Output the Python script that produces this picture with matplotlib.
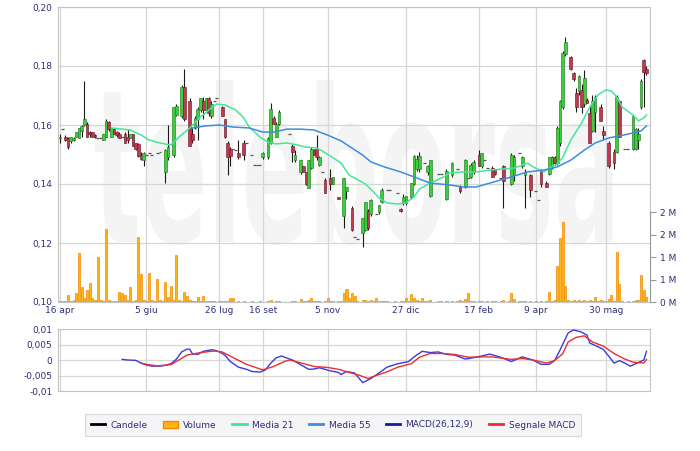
import numpy as np
import matplotlib
matplotlib.use("Agg")
import matplotlib.pyplot as plt
from matplotlib.lines import Line2D
from matplotlib.patches import Patch, PathPatch
from matplotlib.textpath import TextPath
from matplotlib.font_manager import FontProperties
from matplotlib.transforms import Affine2D

# one entry per session, prices in thousandths of euro (None = no candle drawn)
opens = [155.5, 158.5, 156, 155.5, 154.5, 155, 156, 155.5, 158, 160,
         160.5, 157.5, 157.5, 156.5, 155.5, 155.5, 155, 156, 161, 156,
         158.5, 157.5, 157, 156, 157, 156, 155.5, 157, 154, 153.5,
         150, 148, 150, 150.5, 150, None, 150.5, 151, None, 144,
         149, None, 150, 163.5, None, 163, 173, None, 168, 157,
         159, 162, 165, 168, 165, 169, 163, 168, 169, None,
         166, 162, 154, 152, 152, 151.5, 150.5, None, 154, 154,
         None, 150, 146.5, 146.5, 146.5, 149, None, 149, 154, 162.5,
         156, 160.5, None, None, None, 157, 153, 148, None, 144,
         146, 144, 138.5, 145.5, 151.5, 152, 146.5, 144, 141.5, None,
         142, 140, None, 135.5, None, 129, 137.5, None, 132, 122,
         121.5, None, 123.5, 124.5, 131, 130, None, 130, 130.5, 134,
         None, 138, 138, None, None, 137, 131.5, 133.5, 133.5, None,
         135.5, 140, 145, 145, None, 147, 144, 136, None, None,
         143.5, 143.5, None, 135, None, 143, None, 145, 139, None,
         139, 142, 142.5, 144, None, 150, 146, 148, 145.5, None,
         145.5, 145, None, 142, 146, None, None, 140, 143, None,
         150.5, 146, 143, None, 143, None, 137.5, 134.5, 144.5, None,
         140.5, 143.5, 145.5, 149, 147, 154, 166, 184, None, 183,
         177.5, 171, 171.5, 172, 167, 168.5, 164, 158, 164.5, None,
         166, 158, None, 154, None, 151, 151, 168, None, 152,
         152, None, 152, 152, 155, 166, 182, 179]
highs = [157, 158.5, 156.5, 156, 156, 156, 157.5, 159, 160, 175,
         161, 158, 157.5, 157, 155.5, 155.5, 157, 162, 161.5, 159,
         159, 158, 157.5, 156, 157.5, 158.5, 157, 157, 154, 154,
         151, 151, 150, 150.5, 150, None, 150.5, 151, None, 152,
         160, None, 166, 167, None, 173.5, 179, None, 169, 159,
         163, 166, 169, 169.5, 169, 169.5, 168, 168, 169, None,
         166.5, 162, 154.5, 152.5, 152, 151.5, 155, None, 155, 154,
         None, 150, 146.5, 146.5, 146.5, 151, None, 156, 167.5, 163,
         161, 165, None, None, None, 157, 153.5, 151.5, None, 148,
         146, 144, 148, 152.5, 152, 156.5, 149.5, 144, 142, None,
         145, 142.5, None, 135.5, None, 142, 139, None, 132.5, 122,
         121.5, None, 128.5, 134, 131.5, 135, None, 130, 133, 138.5,
         None, 138, 138, None, None, 137, 132, 136.5, 136, None,
         140.5, 150, 150, 151, None, 147, 146.5, 148, None, None,
         143.5, 143.5, None, 145, None, 147.5, None, 145, 139.5, None,
         148.5, 142, 147, 148, None, 151.5, 150.5, 148, 145.5, None,
         146, 145, None, 142, 146.5, None, None, 150.5, 150, None,
         150.5, 149.5, 145, None, 143.5, None, 137.5, 134.5, 145, None,
         141, 149, 149.5, 149.5, 159.5, 168.5, 185, 190, None, 183.5,
         178, 172.5, 177, 174, 178.5, 169, 166, 170, 170, None,
         167, 159.5, None, 154.5, None, 152, 170, 168.5, None, 152,
         152, None, 163.5, 159, 159, 175.5, 182.5, 180]
lows = [154, 158.5, 154.5, 152, 154, 154.5, 156, 155.5, 156, 159.5,
        156, 156, 156, 155.5, 155.5, 155.5, 155, 156, 158, 156,
        157, 156, 155.5, 156, 154, 154, 155.5, 153, 151.5, 149,
        148, 146, 150, 150.5, 150, None, 150.5, 151, None, 140.5,
        148, None, 149, 163, None, 162.5, 161.5, None, 153, 154,
        158.5, 155, 164.5, 162, 165, 163, 162.5, 168, 169, None,
        163, 155.5, 143, 146, 152, 151.5, 148.5, None, 148, 154,
        None, 150, 146.5, 146.5, 146.5, 148.5, None, 148.5, 153.5, 160.5,
        156, 160, None, None, None, 157, 147.5, 147.5, None, 143.5,
        144, 139.5, 138.5, 145, 150, 148, 146, 144, 137, None,
        138, 140, None, 135, None, 125, 135, None, 124, 122,
        121.5, None, 118.5, 124, 124.5, 129, None, 130, 130, 133.5,
        None, 138, 138, None, None, 137, 130.5, 133, 133, None,
        135, 139.5, 144.5, 144, None, 147, 143, 135.5, None, None,
        143.5, 143.5, None, 134.5, None, 142.5, None, 145, 137, None,
        138.5, 142, 142, 143.5, None, 146, 145.5, 148, 145.5, None,
        142.5, 143, None, 142, 132, None, None, 139.5, 141, None,
        150.5, 145.5, 132, None, 135.5, None, 137.5, 134.5, 139, None,
        139, 143, 145, 146.5, 146.5, 153, 165.5, 183.5, None, 178.5,
        175, 164.5, 170, 164, 166, 167.5, 154, 157.5, 157.5, None,
        161.5, 155, None, 145.5, None, 145, 150.5, 156, None, 152,
        152, None, 151.5, 151.5, 152, 165.5, 166, 177]
closes = [156, 158.5, 155, 152.5, 156, 155.5, 157.5, 159, 159.5, 162,
          156, 157, 156, 156, 155.5, 155.5, 157, 161.5, 158.5, 159,
          157, 156.5, 155.5, 156, 154, 155, 157, 153, 152, 149.5,
          148.5, 150.5, 150, 150.5, 150, None, 150.5, 151, None, 151.5,
          152.5, None, 166, 166.5, None, 173, 162, None, 153, 155,
          162.5, 165.5, 169, 165, 169, 164, 167, 168, 169, None,
          163, 156, 149, 149.5, 152, 151.5, 149, None, 150, 154,
          None, 150, 146.5, 146.5, 146.5, 150.5, None, 155.5, 165.5, 160.5,
          160.5, 164.5, None, None, None, 157, 151, 150, None, 148,
          144, 140, 148, 152, 150, 149, 149, 144, 137, None,
          140, 142.5, None, 135, None, 142, 139, None, 124.5, 122,
          121.5, None, 128.5, 134, 125, 134.5, None, 130, 133, 138,
          None, 138, 138, None, None, 137, 131, 135.5, 136, None,
          140.5, 149.5, 148.5, 149.5, None, 147, 146, 148, None, None,
          143.5, 143.5, None, 144.5, None, 147, None, 145, 137.5, None,
          148, 142, 146.5, 147.5, None, 146, 150.5, 148, 145.5, None,
          142.5, 143.5, None, 142, 141, None, None, 150, 149, None,
          150.5, 149, 144, None, 138, None, 137.5, 134.5, 140, None,
          139, 149, 149, 147, 159, 168, 184.5, 188, None, 179,
          175.5, 166, 176.5, 166, 176, 167.5, 154, 168, 169.5, None,
          161.5, 156.5, None, 146, None, 147, 169.5, 156, None, 152,
          152, None, 163, 158.5, 157, 175, 178, 177.5]

# volume per session, millions of shares
volume_m = [0.02, 0.02, 0.03, 0.16, 0.03, 0.05, 0.19, 1.09, 0.33, 0.10,
            0.27, 0.42, 0.10, 0.05, 1.00, 0.05, 0.03, 1.62, 0.05, 0.02,
            0.03, 0.02, 0.22, 0.20, 0.15, 0.05, 0.34, 0.03, 0.05, 1.44,
            0.62, 0.05, 0.03, 0.64, 0.05, 0.02, 0.52, 0.05, 0.02, 0.45,
            0.12, 0.36, 0.05, 1.04, 0.05, 0.03, 0.22, 0.13, 0.05, 0.02,
            0.03, 0.12, 0.02, 0.14, 0.03, 0.02, 0.02, 0.02, 0.01, 0.02,
            0.02, 0.03, 0.02, 0.08, 0.08, 0.01, 0.03, 0.01, 0.02, 0.01,
            0.01, 0.02, 0.01, 0.01, 0.02, 0.01, 0.01, 0.02, 0.04, 0.01,
            0.02, 0.02, 0.01, 0.01, 0.01, 0.01, 0.03, 0.02, 0.01, 0.06,
            0.02, 0.03, 0.04, 0.08, 0.02, 0.03, 0.02, 0.01, 0.03, 0.08,
            0.02, 0.03, 0.01, 0.02, 0.02, 0.20, 0.30, 0.08, 0.20, 0.13,
            0.02, 0.01, 0.04, 0.05, 0.03, 0.04, 0.02, 0.10, 0.03, 0.02,
            0.03, 0.02, 0.01, 0.01, 0.02, 0.01, 0.03, 0.02, 0.10, 0.03,
            0.17, 0.10, 0.04, 0.03, 0.10, 0.02, 0.03, 0.04, 0.01, 0.01,
            0.02, 0.02, 0.01, 0.03, 0.01, 0.03, 0.01, 0.02, 0.04, 0.02,
            0.07, 0.20, 0.03, 0.02, 0.01, 0.03, 0.02, 0.01, 0.02, 0.01,
            0.02, 0.03, 0.01, 0.02, 0.04, 0.01, 0.02, 0.20, 0.06, 0.01,
            0.02, 0.03, 0.02, 0.01, 0.02, 0.01, 0.02, 0.01, 0.02, 0.01,
            0.02, 0.22, 0.03, 0.05, 0.81, 1.43, 1.78, 0.35, 0.04, 0.02,
            0.05, 0.03, 0.04, 0.03, 0.05, 0.02, 0.04, 0.03, 0.12, 0.02,
            0.04, 0.03, 0.02, 0.06, 0.15, 0.03, 1.11, 0.41, 0.02, 0.01,
            0.02, 0.01, 0.03, 0.05, 0.04, 0.59, 0.26, 0.12]

# moving averages and MACD at selected sessions
ma21_x = [19, 26, 30, 33, 37, 41, 44, 48, 52, 56, 58, 61, 65, 68, 70, 74, 77, 80,
          84, 88, 91, 95, 97, 100, 104, 107, 113, 116, 118, 121, 125, 128, 131,
          133, 137, 142, 144, 149, 154, 159, 168, 173, 175, 179, 181, 184, 186,
          189, 193, 196, 199, 202, 204, 206, 208, 212, 214, 216, 217]
ma21_y = [.1590, .1583, .1566, .1549, .1539, .1532, .1559, .1590, .1627, .1658,
          .1671, .1668, .1651, .1624, .1593, .1559, .1542, .1536, .1539, .1532,
          .1525, .1522, .1512, .1495, .1471, .1430, .1400, .1373, .1353, .1336,
          .1332, .1336, .1356, .1383, .1403, .1424, .1437, .1441, .1441, .1447,
          .1454, .1471, .1458, .1441, .1454, .1468, .1490, .1549, .1607, .1661,
          .1702, .1719, .1715, .1695, .1661, .1634, .1614, .1624, .1634]
ma55_x = [49, 54, 59, 64, 70, 75, 79, 84, 89, 94, 99, 104, 108, 112, 115, 120,
          126, 131, 137, 144, 149, 154, 159, 167, 173, 179, 184, 189, 194, 198,
          203, 207, 212, 215, 217]
ma55_y = [.1590, .1597, .1600, .1593, .1590, .1576, .1576, .1586, .1586, .1583,
          .1566, .1546, .1522, .1498, .1475, .1458, .1441, .1424, .1403, .1397,
          .1390, .1390, .1403, .1424, .1441, .1447, .1458, .1481, .1515, .1539,
          .1556, .1563, .1573, .1580, .1597]
macd_x = [23, 25, 28, 30, 32, 34, 38, 41, 43, 45, 47, 48, 49, 51, 53, 56, 57, 59,
          61, 63, 66, 69, 71, 74, 76, 78, 80, 82, 84, 86, 88, 90, 92, 94, 96, 98,
          100, 103, 104, 106, 109, 112, 115, 118, 121, 125, 129, 131, 134, 137,
          140, 143, 146, 150, 154, 159, 163, 167, 171, 175, 178, 181, 183, 185,
          188, 190, 193, 195, 196, 199, 201, 203, 205, 207, 209, 211, 214, 216, 217]
macd_y = [.0002, .0000, -.0001, -.0010, -.0016, -.0020, -.0019, -.0012, .0002,
          .0026, .0035, .0035, .0020, .0018, .0028, .0033, .0032, .0026, .0016,
          -.0005, -.0023, -.0030, -.0037, -.0039, -.0032, -.0010, .0007, .0013,
          .0006, .0000, -.0010, -.0020, -.0030, -.0029, -.0025, -.0030, -.0035,
          -.0040, -.0047, -.0037, -.0042, -.0073, -.0060, -.0042, -.0023, -.0012,
          -.0005, .0010, .0028, .0024, .0026, .0018, .0016, .0003, .0009, .0019,
          .0009, -.0005, .0010, .0000, -.0014, -.0014, -.0002, .0032, .0087,
          .0097, .0090, .0080, .0055, .0043, .0034, .0013, -.0010, -.0002,
          -.0010, -.0020, -.0008, .0000, .0028]
signal_x = [30, 32, 36, 41, 44, 47, 52, 57, 60, 64, 69, 73, 75, 79, 83, 85, 89,
            94, 99, 103, 107, 111, 114, 117, 121, 125, 130, 133, 137, 141, 146,
            151, 156, 160, 167, 171, 175, 180, 183, 186, 188, 191, 194, 197, 201,
            205, 209, 212, 216, 217]
signal_y = [-.0010, -.0014, -.0019, -.0015, .0000, .0016, .0024, .0029, .0026,
            .0008, -.0014, -.0026, -.0032, -.0021, -.0005, .0000, -.0009, -.0021,
            -.0024, -.0030, -.0040, -.0050, -.0060, -.0050, -.0038, -.0023, -.0012,
            .0009, .0021, .0021, .0018, .0009, .0010, .0010, .0002, .0005, .0000,
            -.0010, -.0002, .0020, .0058, .0073, .0078, .0058, .0045, .0021, .0003,
            -.0007, -.0010, .0002]

tick_pos = [0, 32, 59, 75, 99, 128, 155, 176, 202]
tick_lab = ["16 apr", "5 giu", "26 lug", "16 set", "5 nov", "27 dic", "17 feb", "9 apr", "30 mag"]

txt = "#2e2e78"
grid_c = "#d6d6d6"
spine_c = "#c4c4c4"
up_c, up_e = "#3ccf3c", "#1e6e1e"
dn_c, dn_e = "#c2384f", "#5e1422"

fig = plt.figure(figsize=(7, 4.51), dpi=100)
ax = fig.add_axes([58/700, 1-302/451, 592/700, 295/451])
axm = fig.add_axes([58/700, 1-391/451, 592/700, 62/451])

for a in (ax, axm):
    a.set_xlim(-0.74, 218.3)
    a.set_axisbelow(True)
    for s in a.spines.values():
        s.set_color(spine_c)
    a.tick_params(length=0, labelsize=6.5, labelcolor=txt, pad=4)
    a.set_xticks(tick_pos)
    a.grid(True, color=grid_c, lw=0.9)

# watermark
fp = FontProperties(family="DejaVu Sans", weight="bold")
tp = TextPath((0, 0), "teleborsa", size=1, prop=fp)
bb = tp.get_extents()
tr = Affine2D().translate(-bb.x0, -bb.y0).scale(0.874/bb.width, 0.56/bb.height).translate(0.0625, 0.193)
ax.add_patch(PathPatch(tr.transform_path(tp), transform=ax.transAxes, fc="#f4f4f4", ec="none", zorder=0.2))

# price panel
ax.set_ylim(0.10, 0.20)
ax.set_yticks([0.10, 0.12, 0.14, 0.16, 0.18, 0.20])
ax.set_yticklabels(["0,10", "0,12", "0,14", "0,16", "0,18", "0,20"])
ax.set_xticklabels(tick_lab)
ax.tick_params(axis="x", pad=3)

# volume on the right scale
ax2 = ax.twinx()
ax2.set_ylim(0, 6.556e6)
vol = np.array(volume_m) * 1e6
ax2.bar(np.arange(len(vol)), vol, width=0.75, color="#ffb516", edgecolor="#f18a00", lw=0.5, zorder=2)
ax2.set_yticks([0, 0.5e6, 1e6, 1.5e6, 2e6])
ax2.set_yticklabels(["0 M", "1 M", "1 M", "2 M", "2 M"])
ax2.tick_params(axis="y", length=4, color="#9a9a9a", labelsize=6.5, labelcolor=txt, pad=3)
for k in ("top", "left", "bottom"):
    ax2.spines[k].set_visible(False)
ax2.spines["right"].set_color("#9a9a9a")
ax2.spines["right"].set_bounds(0, 2e6)

# candles on an overlay axis sharing the price scale
axc = ax.twinx()
axc.set_ylim(0.10, 0.20)
axc.set_yticks([])
for s in axc.spines.values():
    s.set_visible(False)
for i in range(len(closes)):
    o, h, l, c = opens[i], highs[i], lows[i], closes[i]
    if c is None:
        continue
    o, h, l, c = o/1000, h/1000, l/1000, c/1000
    if h > l:
        axc.vlines(i, l, h, color="#1a1a1a", lw=0.8, zorder=3)
    if abs(c - o) < 1e-9:
        axc.hlines(c, i-0.55, i+0.55, color="#555555", lw=0.9, zorder=4)
    else:
        up = c > o
        axc.bar(i, abs(c-o), bottom=min(o, c), width=1.0,
                color=up_c if up else dn_c, edgecolor=up_e if up else dn_e, lw=0.4, zorder=4)

axc.plot(ma21_x, ma21_y, color="#46e59c", lw=1.1, zorder=5)
axc.plot(ma55_x, ma55_y, color="#3b8de0", lw=1.1, zorder=5)

# MACD panel
axm.set_ylim(-0.01, 0.01)
axm.set_yticks([-0.01, -0.005, 0, 0.005, 0.01])
axm.set_yticklabels(["-0,01", "-0,005", "0", "0,005", "0,01"])
axm.set_xticklabels([])
axm.plot(macd_x, macd_y, color="#3a3ae0", lw=1.0, zorder=3)
axm.plot(signal_x, signal_y, color="#e83030", lw=1.0, zorder=3)

handles = [Line2D([], [], color="black", lw=2),
           Patch(facecolor="#ffb516", edgecolor="#f18a00"),
           Line2D([], [], color="#46e59c", lw=2),
           Line2D([], [], color="#3b8de0", lw=2),
           Line2D([], [], color="#1a1aa0", lw=2),
           Line2D([], [], color="#e03030", lw=2)]
labels = ["Candele", "Volume", "Media 21", "Media 55", "MACD(26,12,9)", "Segnale MACD"]
leg = fig.legend(handles, labels, loc="center", bbox_to_anchor=(333/700, 1-425/451), ncol=6,
                 fontsize=6.5, frameon=True, fancybox=False, handlelength=1.6,
                 handletextpad=0.6, columnspacing=1.7, borderpad=0.7, labelcolor=txt)
leg.get_frame().set_edgecolor("#d0d0d0")
leg.get_frame().set_facecolor("#f3f3f5")
leg.get_frame().set_linewidth(0.8)

fig.savefig("out.png", dpi=100)
